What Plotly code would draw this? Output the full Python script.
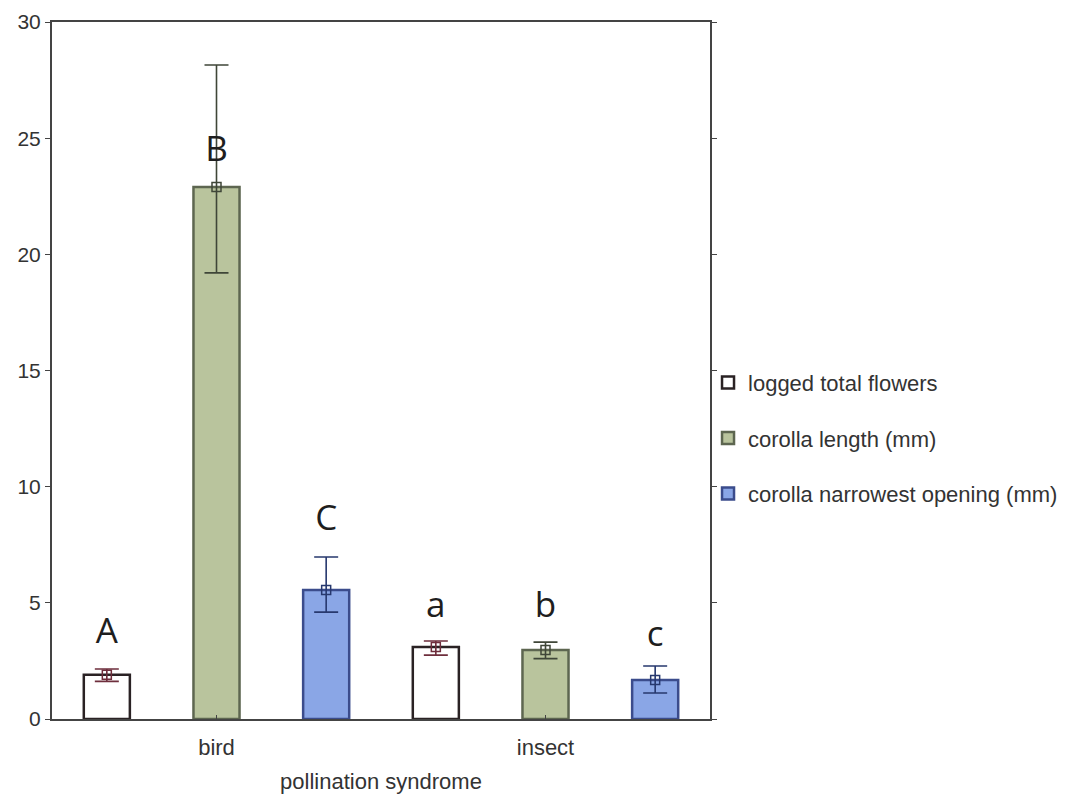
import plotly.graph_objects as go

categories = ["bird", "insect"]
series_names = ["logged total flowers", "corolla length (mm)", "corolla narrowest opening (mm)"]
means = {
    "logged total flowers": [1.9, 3.1],
    "corolla length (mm)": [22.9, 2.97],
    "corolla narrowest opening (mm)": [5.55, 1.68],
}
err_plus = {
    "logged total flowers": [0.25, 0.26],
    "corolla length (mm)": [5.25, 0.34],
    "corolla narrowest opening (mm)": [1.42, 0.6],
}
err_minus = {
    "logged total flowers": [0.28, 0.35],
    "corolla length (mm)": [3.7, 0.37],
    "corolla narrowest opening (mm)": [0.95, 0.56],
}
letters = {
    "logged total flowers": ["A", "a"],
    "corolla length (mm)": ["B", "b"],
    "corolla narrowest opening (mm)": ["C", "c"],
}
letter_y = {
    "logged total flowers": [3.65, 4.75],
    "corolla length (mm)": [24.4, 4.75],
    "corolla narrowest opening (mm)": [8.5, 3.5],
}
y_ticks = [0, 5, 10, 15, 20, 25, 30]

fills = ["#ffffff", "#b9c49d", "#8aa6e6"]
outlines = ["#2a2224", "#5d6650", "#3b4c8c"]
err_colors = ["#6e2e3c", "#3f4638", "#27386e"]

fig = go.Figure()
for i, name in enumerate(series_names):
    fig.add_trace(go.Bar(
        x=categories, y=means[name], name=name,
        offsetgroup=str(i), legendgroup=str(i),
        marker=dict(color=fills[i], line=dict(color=outlines[i], width=2.5)),
        error_y=dict(type="data", symmetric=False, array=err_plus[name],
                     arrayminus=err_minus[name], color=err_colors[i],
                     thickness=1.6, width=12),
    ))
for i, name in enumerate(series_names):
    fig.add_trace(go.Scatter(
        x=categories, y=means[name], mode="markers",
        offsetgroup=str(i), showlegend=False, hoverinfo="skip",
        marker=dict(symbol="square-open", size=9, color=err_colors[i], line=dict(width=1.5)),
    ))
    fig.add_trace(go.Scatter(
        x=categories, y=letter_y[name], mode="text", text=letters[name],
        offsetgroup=str(i), showlegend=False, hoverinfo="skip",
        textfont=dict(family="Open Sans, sans-serif", size=35, color="#1e1e1e"),
    ))

fig.update_layout(
    width=1082, height=801,
    margin=dict(l=52, r=372, t=22, b=82),
    paper_bgcolor="white", plot_bgcolor="white",
    barmode="group", scattermode="group",
    bargap=0.0, bargroupgap=0.58, scattergap=0.0,
    font=dict(family="Liberation Sans, Arial, sans-serif", size=22, color="#333333"),
    legend=dict(x=0.997, y=0.403, xanchor="left", yanchor="middle",
                tracegroupgap=24, font=dict(size=22, color="#333333"),
                bgcolor="rgba(0,0,0,0)"),
    xaxis=dict(range=[-0.5, 1.5], showline=True, linecolor="#444444", linewidth=2,
               mirror=True, ticks="inside", ticklen=4, tickcolor="#444444",
               showgrid=False, tickfont=dict(size=22), ticklabelstandoff=8,
               automargin=False,
               title=dict(text="pollination syndrome", font=dict(size=22), standoff=14)),
    yaxis=dict(range=[0, 30], tickvals=y_ticks, showline=True, linecolor="#444444",
               linewidth=2, mirror="ticks", ticks="outside", ticklen=5,
               tickcolor="#444444", showgrid=False, zeroline=False, automargin=False,
               tickfont=dict(size=21, color="#333333")),
)

fig.write_html("out.html")
